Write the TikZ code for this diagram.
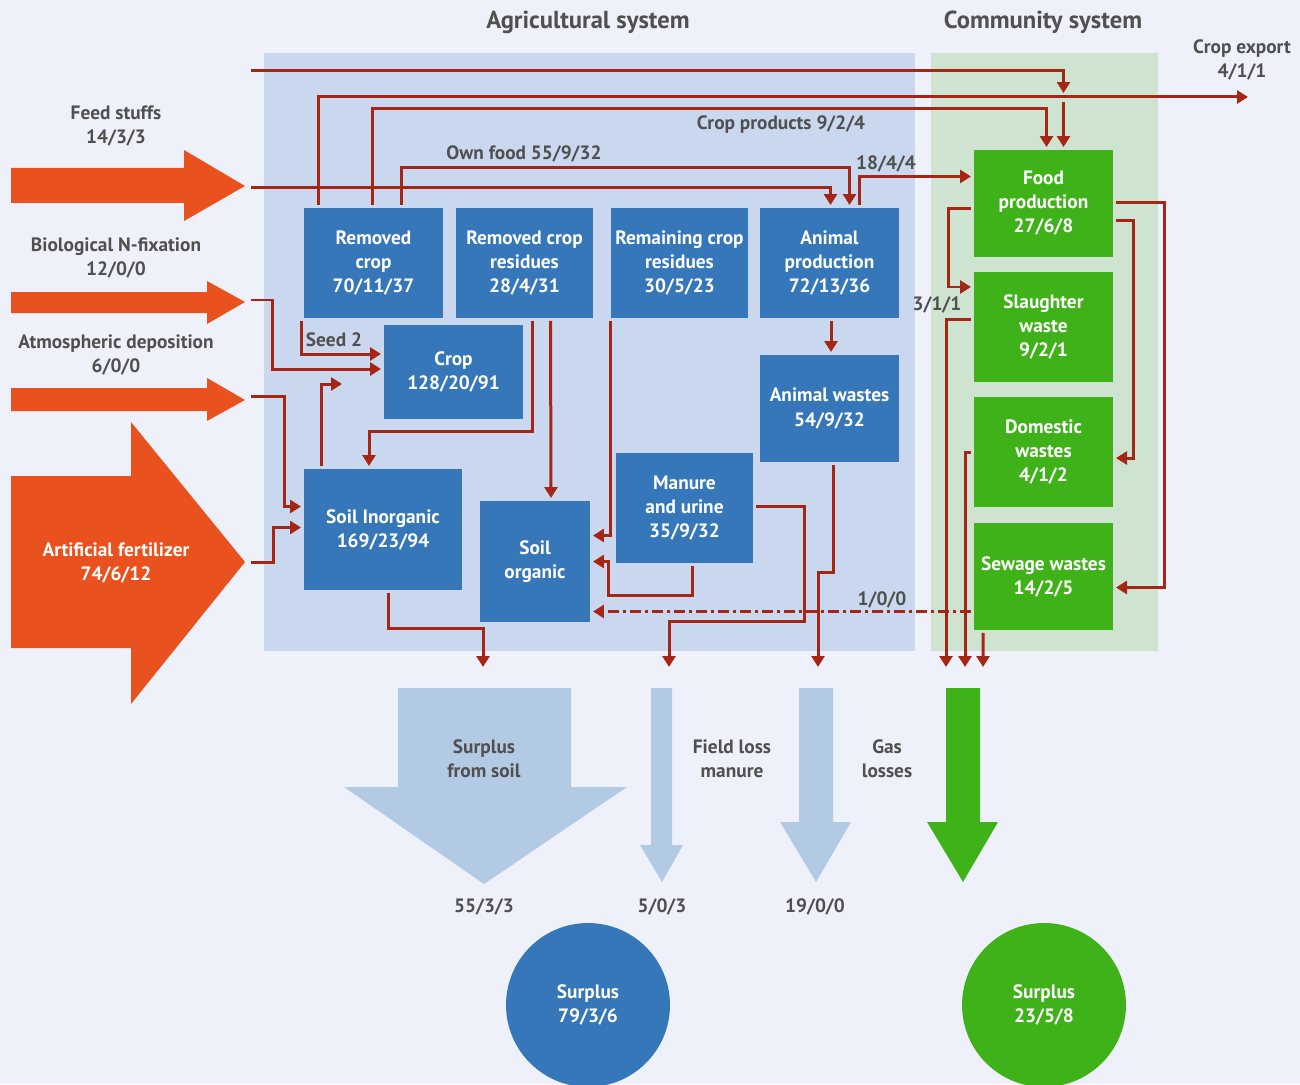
\documentclass[tikz,border=0pt]{standalone}
\usepackage{fontspec}
\setmainfont{PT Sans}
\usetikzlibrary{arrows.meta,calc}
\definecolor{pagebg}{RGB}{238,241,250}
\definecolor{agpanel}{RGB}{201,216,238}
\definecolor{copanel}{RGB}{207,228,208}
\definecolor{agblue}{RGB}{53,119,185}
\definecolor{cogreen}{RGB}{63,178,25}
\definecolor{inorange}{RGB}{233,82,30}
\definecolor{flowred}{RGB}{166,38,22}
\definecolor{lossblue}{RGB}{179,202,228}
\definecolor{labgrey}{RGB}{80,80,80}
\newcommand\bxfont{\bfseries\fontsize{11}{13.7}\selectfont}
\newcommand\lbfont{\bfseries\fontsize{11}{13.7}\selectfont}

\begin{document}
\begin{tikzpicture}[x=0.02cm,y=-0.02cm,
  box/.style={fill=agblue,text=white,font=\bxfont,align=center,inner sep=0pt,
    outer sep=0.06cm,minimum width=2.78cm,minimum height=2.2cm},
  gbox/.style={box,fill=cogreen},
  lab/.style={text=labgrey,font=\lbfont,align=center,inner sep=0pt},
  flow/.style={draw=flowred,line width=0.06cm,-{Triangle[length=0.22cm,width=0.26cm]}}]
  \useasboundingbox (0,0) rectangle (1300,1084);
  \clip (0,0) rectangle (1300,1084);
  \fill[pagebg] (0,0) rectangle (1300,1084);

  % panels
  \fill[agpanel] (264,53) rectangle (915,651);
  \fill[copanel] (931,53) rectangle (1158,651);
  \node[lab,font=\bfseries\fontsize{14}{16}\selectfont] (agtitle) at (588,22) {Agricultural system};
  \node[lab,font=\bfseries\fontsize{14}{16}\selectfont] (cotitle) at (1043,22) {Community system};

  % inputs
  \fill[inorange] (11,168) -- (184,168) -- (184,150) -- (245,186) -- (184,221) -- (184,203) -- (11,203) -- cycle;
  \fill[inorange] (11,292) -- (207,292) -- (207,281) -- (245,302) -- (207,324) -- (207,313) -- (11,313) -- cycle;
  \fill[inorange] (11,388) -- (207,388) -- (207,378) -- (245,400) -- (207,421) -- (207,411) -- (11,411) -- cycle;
  \fill[inorange] (11,476) -- (131,476) -- (131,422) -- (245,562) -- (131,704) -- (131,648) -- (11,648) -- cycle;
  \node[lab] (feedlab) at (116,126) {Feed stuffs\\14/3/3};
  \node[lab] (nfixlab) at (116,258) {Biological N-fixation\\12/0/0};
  \node[lab] (atmlab) at (116,355) {Atmospheric deposition\\6/0/0};
  \node[lab,text=white] (fertlab) at (116,563) {Artificial fertilizer\\74/6/12};
  \coordinate (topin) at (251,71);
  \coordinate (feedin) at (251,188);
  \coordinate (nfixin) at (251,300);
  \coordinate (atmin) at (251,396);
  \coordinate (fertin) at (251,562);

  % agricultural boxes
  \node[box] (remcrop) at (373.5,263) {Removed\\crop\\70/11/37};
  \node[box,minimum width=2.74cm] (remres) at (524.5,263) {Removed crop\\residues\\28/4/31};
  \node[box,minimum width=2.74cm] (remainres) at (679.5,263) {Remaining crop\\residues\\30/5/23};
  \node[box] (animprod) at (829.5,263) {Animal\\production\\72/13/36};
  \node[box,minimum height=1.88cm] (crop) at (453.5,372) {Crop\\128/20/91};
  \node[box,minimum height=2.14cm] (animwaste) at (829.5,408.5) {Animal wastes\\54/9/32};
  \node[box,minimum width=3.16cm,minimum height=2.42cm] (soilinorg) at (383,529.5) {Soil Inorganic\\169/23/94};
  \node[box,minimum width=2.2cm,minimum height=2.42cm] (soilorg) at (535,561.5) {Soil\\organic};
  \node[box,minimum width=2.74cm] (manure) at (684.5,508) {Manure\\and urine\\35/9/32};

  % community boxes
  \node[gbox,minimum height=2.14cm] (food) at (1043.5,203.5) {Food\\production\\27/6/8};
  \node[gbox] (slaughter) at (1043.5,327) {Slaughter\\waste\\9/2/1};
  \node[gbox] (domestic) at (1043.5,452) {Domestic\\wastes\\4/1/2};
  \node[gbox,minimum height=2.14cm] (sewage) at (1043.5,576.5) {Sewage wastes\\14/2/5};

  % losses
  \fill[lossblue] (398,688) -- (571,688) -- (571,787) -- (627,787) -- (484,884) -- (344,787) -- (398,787) -- cycle;
  \fill[lossblue] (651,688) -- (672,688) -- (672,845) -- (683,845) -- (662,882) -- (640,845) -- (651,845) -- cycle;
  \fill[lossblue] (799,688) -- (833,688) -- (833,822) -- (851,822) -- (816,882) -- (780,822) -- (799,822) -- cycle;
  \fill[cogreen] (946,688) -- (980,688) -- (980,822) -- (998,822) -- (963,882) -- (927,822) -- (946,822) -- cycle;
  \coordinate (soilout) at (483,667);
  \coordinate (fieldin) at (669,667);
  \coordinate (gasin) at (818,667);
  \coordinate (comA) at (946,667);
  \coordinate (comB) at (965,667);
  \coordinate (comC) at (983,667);
  \node[lab] (soillab) at (484,759) {Surplus\\from soil};
  \node[lab] (fieldlab) at (732,759) {Field loss\\manure};
  \node[lab] (gaslab) at (887,759) {Gas\\losses};
  \node[lab] (soilval) at (484,907) {55/3/3};
  \node[lab] (fieldval) at (662,907) {5/0/3};
  \node[lab] (gasval) at (815,907) {19/0/0};
  \node[circle,fill=agblue,text=white,font=\bxfont,align=center,minimum size=3.28cm,inner sep=0pt] (agsurplus) at (588,1005) {Surplus\\79/3/6};
  \node[circle,fill=cogreen,text=white,font=\bxfont,align=center,minimum size=3.28cm,inner sep=0pt] (cosurplus) at (1044,1005) {Surplus\\23/5/8};

  % flows at the top
  \coordinate (export) at (1248,97);
  \draw[flow] (topin) -| ($(food.north)+(20,-54)$);
  \draw[flow] ($(food.north)+(20,-45)$) -- ($(food.north)+(20,0)$);
  \draw[flow] ($(remcrop.north west)+(17,0)$) |- (export);
  \draw[flow] ($(remcrop.north west)+(71,0)$) |- ($(food.north)+(3,-39)$) -- ($(food.north)+(3,0)$);
  \draw[flow] ($(remcrop.north west)+(100,0)$) |- ($(animprod.north)+(20,-38)$) -- ($(animprod.north)+(20,0)$);
  \draw[flow] (feedin) -| ($(animprod.north)+(1,0)$);
  \draw[flow] ($(animprod.north)+(30,0)$) |- ($(food.west)+(0,-27)$);
  \node[lab] (exportlab) at (1242,60) {Crop export\\4/1/1};
  \node[lab] (prodlab) at (781,125) {Crop products 9/2/4};
  \node[lab] (ownlab) at (524,154) {Own food 55/9/32};
  \node[lab] (animfoodlab) at (886,164) {18/4/4};

  % flows into crop and soil
  \draw[flow] (remcrop.south west) |- ($(crop.west)+(0,-18)$);
  \node[lab] (seedlab) at (334,340) {Seed 2};
  \draw[flow] (nfixin) -- ++(21,0) |- ($(crop.west)+(0,-3)$);
  \draw[flow] ($(soilinorg.north west)+(20,0)$) |- ($(crop.west)+(-39,12)$);
  \draw[flow] (atmin) -- ++(33,0) |- ($(soilinorg.west)+(0,-23)$);
  \draw[flow] (fertin) -- ++(22,0) |- ($(soilinorg.west)+(0,-2)$);
  \draw[flow] ($(remres.south west)+(79,0)$) |- ($(soilinorg.north)+(-14,-35)$) -- ($(soilinorg.north)+(-14,0)$);
  \draw[flow] ($(remres.south)+(26,0)$) -- ($(soilorg.north)+(16,0)$);
  \draw[flow] ($(remainres.south west)+(2,0)$) |- ($(soilorg.east)+(0,-26)$);
  \draw[flow] ($(manure.south)+(8,0)$) -- ++(0,30) -| ($(soilorg.east)+(16,0)$) -- (soilorg.east);
  \coordinate (sewback) at ($(sewage.west)+(0,35)$);
  \draw[flow,dash pattern=on 0.22cm off 0.08cm on 0.06cm off 0.08cm] (sewback) -- (sewback -| soilorg.east);
  \node[lab] (sewbacklab) at (882,600) {1/0/0};

  % flows to losses
  \draw[flow] (animprod.south) ++(1.5,0) -- ($(animwaste.north)+(1.5,0)$);
  \draw[flow] ($(manure.east)+(0,-2)$) -- ++(48,0) |- ($(fieldin)+(0,-46)$) -- (fieldin);
  \draw[flow] ($(animwaste.south)+(4,0)$) |- ($(gasin)+(0,-95)$) -- (gasin);
  \draw[flow] ($(soilinorg.south)+(5,0)$) |- ($(soilout)+(0,-39)$) -- (soilout);

  % community flows
  \draw[flow] ($(food.west)+(0,5)$) -- ++(-23,0) |- ($(slaughter.west)+(0,-40)$);
  \node[lab] (slaughterlab) at (937,305) {3/1/1};
  \draw[flow] ($(slaughter.west)+(0,-8)$) -| (comA);
  \draw[flow] (domestic.west) -| (comB);
  \draw[flow] ($(sewage.south west)+(12,0)$) -- (comC);
  \draw[flow] ($(food.east)+(0,17)$) -- ++(17,0) |- ($(domestic.east)+(0,6)$);
  \draw[flow] ($(food.east)+(0,-1)$) -- ++(48,0) |- ($(sewage.east)+(0,11)$);
\end{tikzpicture}
\end{document}
